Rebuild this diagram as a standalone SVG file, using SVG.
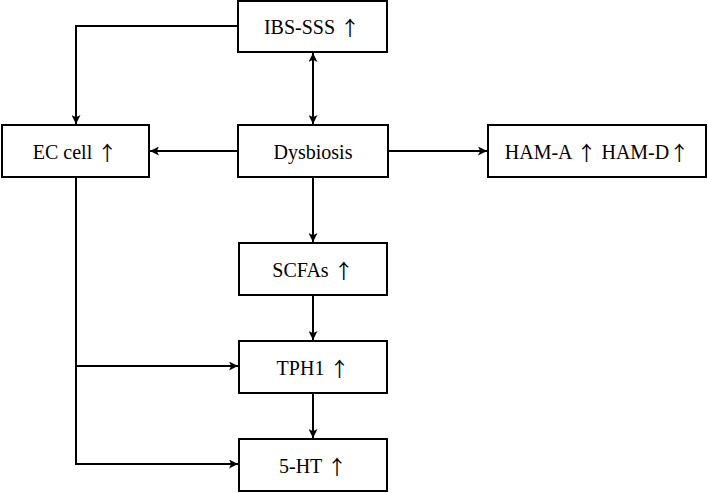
<svg xmlns="http://www.w3.org/2000/svg" width="708" height="493" viewBox="0 0 708 493">
<style>
.box{fill:#fff;stroke:#000;stroke-width:2}
.lbl{font-family:"Liberation Serif","Times New Roman",serif;font-size:20px;fill:#000;text-anchor:middle;dominant-baseline:central}
.ar{font-family:"Noto Sans CJK SC","Liberation Serif",sans-serif;font-size:20px}
.ln{fill:none;stroke:#000;stroke-width:2}
</style>
<defs>
<marker id="ah" viewBox="0 0 10 10" refX="10" refY="5" markerWidth="10" markerHeight="9" orient="auto-start-reverse" markerUnits="userSpaceOnUse">
<path d="M0,0 L10,5 L0,10 L2.5,5 Z" fill="#000"/>
</marker>
</defs>
<rect width="708" height="493" fill="#fff"/>
<g id="connectors">
<path class="ln" d="M238,26 H76 V124" marker-end="url(#ah)"/>
<path class="ln" d="M313,53 V124" marker-start="url(#ah)" marker-end="url(#ah)"/>
<path class="ln" d="M238,151 H150" marker-end="url(#ah)"/>
<path class="ln" d="M388,151 H487" marker-end="url(#ah)"/>
<path class="ln" d="M313,177 V242" marker-end="url(#ah)"/>
<path class="ln" d="M313,295 V340" marker-end="url(#ah)"/>
<path class="ln" d="M313,393 V438" marker-end="url(#ah)"/>
<path class="ln" d="M76,177 V464 H238" marker-end="url(#ah)"/>
<path class="ln" d="M76,366 H238" marker-end="url(#ah)"/>
</g>
<g id="ibs"><rect class="box" x="238" y="1" width="149" height="51"/><text class="lbl" x="312" y="27">IBS-SSS <tspan class="ar">↑</tspan></text></g>
<g id="ec"><rect class="box" x="2" y="125" width="147" height="52"/><text class="lbl" x="75" y="152">EC cell <tspan class="ar">↑</tspan></text></g>
<g id="dysbiosis"><rect class="box" x="238" y="125" width="150" height="52"/><text class="lbl" x="313" y="152">Dysbiosis</text></g>
<g id="ham"><rect class="box" x="488" y="125" width="218" height="52"/><text class="lbl" x="597" y="152">HAM-A <tspan class="ar">↑</tspan> HAM-D<tspan class="ar">↑</tspan></text></g>
<g id="scfas"><rect class="box" x="239" y="243" width="148" height="52"/><text class="lbl" x="313" y="270">SCFAs <tspan class="ar">↑</tspan></text></g>
<g id="tph1"><rect class="box" x="239" y="341" width="148" height="52"/><text class="lbl" x="313" y="368">TPH1 <tspan class="ar">↑</tspan></text></g>
<g id="ht"><rect class="box" x="239" y="439" width="148" height="52"/><text class="lbl" x="313" y="466">5-HT <tspan class="ar">↑</tspan></text></g>
</svg>
